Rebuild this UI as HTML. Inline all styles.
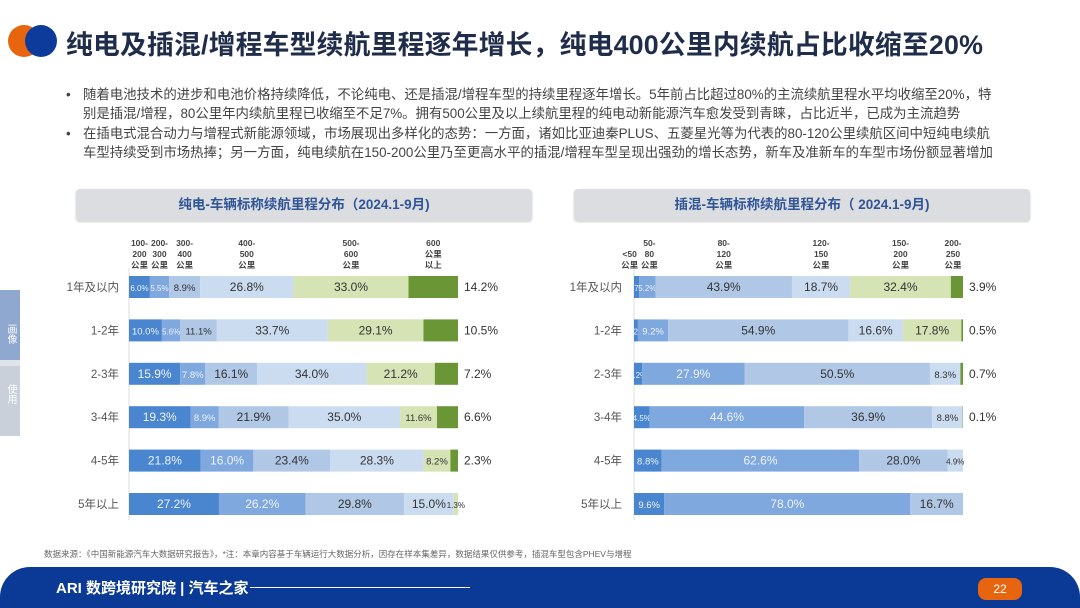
<!DOCTYPE html>
<html><head><meta charset="utf-8">
<style>
*{margin:0;padding:0;box-sizing:border-box}
body{width:1080px;height:608px;overflow:hidden;background:#fff;font-family:"Liberation Sans","Noto Sans CJK SC",sans-serif;position:relative;color:#333}
.abs{position:absolute}
.title{left:66px;top:23px;font-size:26.8px;font-weight:bold;color:#1f2d4a;white-space:nowrap;letter-spacing:0.2px}
.bul{left:66px;font-size:13.4px;color:#444;line-height:18.5px;width:1000px}
.bul span.dot{position:absolute;left:0;top:0}
.bul p{margin-left:17px;white-space:nowrap}
.hdr{height:32px;background:#dcdde1;border-radius:4px;color:#2f5597;font-weight:bold;font-size:13.5px;text-align:center;line-height:32px;box-shadow:0 1px 2px #ccc}
.footer{left:0;top:567px;width:1080px;height:41px;background:#0b3a96;border-radius:30px 30px 0 0}
</style></head><body>
<div class="abs" style="left:8px;top:25px;width:32px;height:32px;border-radius:50%;background:#e8650f"></div>
<div class="abs" style="left:25px;top:25px;width:32px;height:32px;border-radius:50%;background:#0d3b9c"></div>
<div class="abs title">纯电及插混/增程车型续航里程逐年增长，纯电400公里内续航占比收缩至20%</div>
<div class="abs bul" style="top:86px"><span class="dot">•</span><p>随着电池技术的进步和电池价格持续降低，不论纯电、还是插混/增程车型的持续里程逐年增长。5年前占比超过80%的主流续航里程水平均收缩至20%，特</p><p>别是插混/增程，80公里年内续航里程已收缩至不足7%。拥有500公里及以上续航里程的纯电动新能源汽车愈发受到青睐，占比近半，已成为主流趋势</p></div>
<div class="abs bul" style="top:125px"><span class="dot">•</span><p>在插电式混合动力与增程式新能源领域，市场展现出多样化的态势：一方面，诸如比亚迪秦PLUS、五菱星光等为代表的80-120公里续航区间中短纯电续航</p><p>车型持续受到市场热捧；另一方面，纯电续航在150-200公里乃至更高水平的插混/增程车型呈现出强劲的增长态势，新车及准新车的车型市场份额显著增加</p></div>
<div class="abs hdr" style="left:76px;top:189px;width:456px">纯电-车辆标称续航里程分布（2024.1-9月)</div>
<div class="abs hdr" style="left:574px;top:189px;width:456px">插混-车辆标称续航里程分布（ 2024.1-9月)</div>
<div class="abs" style="left:0;top:290px;width:20px;height:146px;background:#dfe3ea">
 <div style="background:#8fa8cf;color:#fff;font-size:10px;width:20px;height:70px;writing-mode:vertical-rl;text-align:center;line-height:20px;padding-top:18px">画像</div>
 <div style="color:#fff;background:#c9d0da;font-size:10px;width:20px;height:70px;margin-top:6px;writing-mode:vertical-rl;line-height:20px;padding-top:18px">使用</div>
</div>
<svg id="chart" class="abs" style="left:0;top:0" width="1080" height="608"></svg>
<div class="abs" style="left:44px;top:548px;font-size:8.5px;color:#666;white-space:nowrap">数据来源：《中国新能源汽车大数据研究报告》，*注：本章内容基于车辆运行大数据分析，因存在样本集差异，数据结果仅供参考，插混车型包含PHEV与增程</div>
<div class="abs footer">
 <div class="abs" style="left:56px;top:10px;color:#fff;font-size:15px;font-weight:bold">ARI 数跨境研究院 | 汽车之家</div>
 <div class="abs" style="left:250px;top:20px;width:220px;height:1px;background:#fff"></div>
 <div class="abs" style="left:978px;top:11px;width:44px;height:22px;border-radius:8px;background:#e8650f;color:#fff;font-size:12px;text-align:center;line-height:22px">22</div>
</div>
<script>
const rowLabels=["1年及以内","1-2年","2-3年","3-4年","4-5年","5年以上"];
const bevSeries=["100-200公里","200-300公里","300-400公里","400-500公里","500-600公里","600公里以上"];
const bevValues=[[6.0,5.5,8.9,26.8,33.0,14.2],[10.0,5.6,11.1,33.7,29.1,10.5],[15.9,7.8,16.1,34.0,21.2,7.2],[19.3,8.9,21.9,35.0,11.6,6.6],[21.8,16.0,23.4,28.3,8.2,2.3],[27.2,26.2,29.8,15.0,1.3,0]];
const phevSeries=["<50公里","50-80公里","80-120公里","120-150公里","150-200公里","200-250公里"];
const phevValues=[[1.7,5.2,43.9,18.7,32.4,3.9],[1.2,9.2,54.9,16.6,17.8,0.5],[2.2,27.9,50.5,8.3,0,0.7],[4.5,44.6,36.9,8.8,0,0.1],[8.8,62.6,28.0,4.9,0,0],[9.6,78.0,16.7,0,0,0]];
const colors=["#4a86d0","#7fa8de","#b0c7e6","#cbdcf1","#d5e3b5","#6b9636"];
const bevHeaders=[["100-","200","公里"],["200-","300","公里"],["300-","400","公里"],["400-","500","公里"],["500-","600","公里"],["600","公里","以上"]];
const phevHeaders=[["<50","公里"],["50-","80","公里"],["80-","120","公里"],["120-","150","公里"],["150-","200","公里"],["200-","250","公里"]];
const NS="http://www.w3.org/2000/svg";
const svg=document.getElementById('chart');
function mk(t,a){const e=document.createElementNS(NS,t);for(const k in a)e.setAttribute(k,a[k]);svg.appendChild(e);return e;}
function draw(x0,x1,values,headers,prefix,labelX,hdrOffsets){
  const y0=287,dy=43.4,h=22;
  const yOf=i=>y0+i*dy;
  const line=mk('line',{x1:x0,x2:x0,y1:268,y2:520,stroke:'#ddd'});
  
  
  values.forEach((row,i)=>{
    const sum=row.reduce((a,b)=>a+b,0);
    const xs=v=>(x1-x0)*v/sum;
    const lab=mk('text',{x:labelX,y:yOf(i)+4,'text-anchor':'end','font-size':11.5,fill:'#555'});
    lab.textContent=rowLabels[i];
    
    
    let cx=x0;
    row.forEach((v,j)=>{
      if(v<=0)return;
      const w=xs(v);
      const r=mk('rect',{x:cx,y:yOf(i)-h/2,width:w,height:h,fill:colors[j]});
      
      
      const last=j===5;
      const tx=last?x1+6:cx+w/2;
      const fs=w<22?8:(w<45?9.5:12);
      const t=mk('text',{x:tx,y:yOf(i)+4,'text-anchor':last?'start':'middle','font-size':last?12:fs,fill:(j<2?'#eef3fb':'#333')});
      t.textContent=v.toFixed(1)+'%';
      
      
      cx+=w;
    });
  });
  const r0=values[0],s0=r0.reduce((a,b)=>a+b,0);let cx=x0;
  r0.forEach((v,j)=>{
    const w=(x1-x0)*v/s0;let c=cx+w/2+hdrOffsets[j];cx+=w;
    if(j===5)c=Math.min(c,x1-10);
    const lines=headers[j];
    lines.forEach((ln,k)=>{
      const t=mk('text',{x:c,y:268-(lines.length-1-k)*11,'text-anchor':'middle','font-size':8.5,'font-weight':'bold',fill:'#444'});
      t.textContent=ln;
      
      
    });
  });
}
draw(129,458,bevValues,bevHeaders,'bev',119,[0,0,0,0,0,0]);
draw(634,963,phevValues,phevHeaders,'phev',622,[-7,2,0,0,0,0]);
</script>
</body></html>
